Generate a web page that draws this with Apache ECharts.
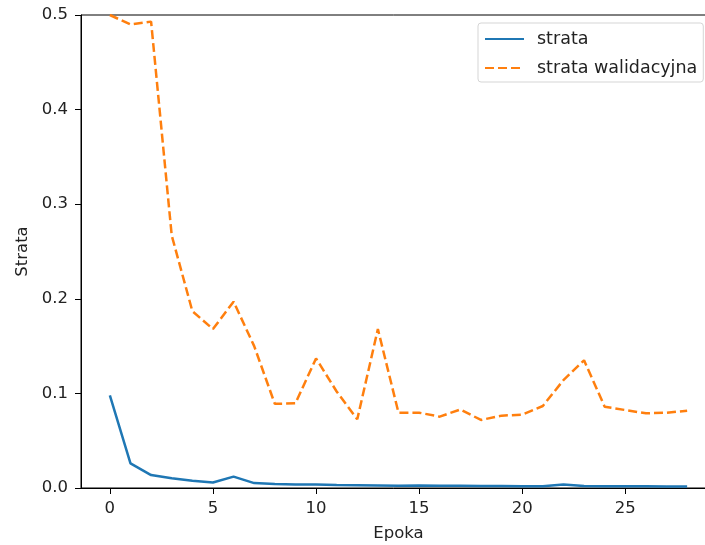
<!DOCTYPE html>
<html>
<head>
<meta charset="utf-8">
<script src="https://cdn.jsdelivr.net/npm/echarts@6/dist/echarts.min.js"></script>
<style>
  html, body { margin: 0; padding: 0; background: #fff; }
  #chart { width: 705px; height: 545px; }
</style>
</head>
<body>
<div id="chart"></div>
<script>
// epoki 0..28
var epochs = [0,1,2,3,4,5,6,7,8,9,10,11,12,13,14,15,16,17,18,19,20,21,22,23,24,25,26,27,28];
var loss = [0.098,0.026,0.0137,0.0102,0.0077,0.0058,0.012,0.0052,0.0042,0.0036,0.0038,0.0031,0.0029,0.0027,0.0025,0.0026,0.0023,0.0024,0.0021,0.002,0.0019,0.0019,0.0037,0.0022,0.0019,0.0018,0.0018,0.0017,0.0016];
var valLoss = [0.5,0.49,0.493,0.267,0.187,0.168,0.197,0.15,0.089,0.0895,0.137,0.102,0.0726,0.168,0.0796,0.0796,0.0754,0.083,0.0719,0.0765,0.0775,0.0867,0.114,0.135,0.086,0.0824,0.079,0.0796,0.0817];
var xTicks = [0,5,10,15,20,25];

var font = 'DejaVu Sans';
var fs = 16.5;
var chart = echarts.init(document.getElementById('chart'));

function pairs(ys) {
    return epochs.map(function (x, i) { return [x, ys[i]]; });
}

chart.setOption({
    animation: false,
    backgroundColor: '#fff',
    textStyle: { fontFamily: font },
    grid: {
        left: 81, top: 15, width: 635, height: 473,
        outerBoundsMode: 'none',
        show: true, borderColor: '#000', borderWidth: 1, backgroundColor: 'transparent'
    },
    legend: {
        orient: 'vertical',
        left: 478, top: 23,
        padding: [6, 6, 4, 6],
        itemWidth: 39, itemHeight: 12, itemGap: 9,
        backgroundColor: '#fff',
        borderColor: '#d5d5d5', borderWidth: 1, borderRadius: 3,
        itemStyle: { opacity: 0 },
        textStyle: { fontFamily: font, fontSize: 17.5, lineHeight: 20, color: '#222', padding: [0, 0, 0, 8] },
        data: ['strata', 'strata walidacyjna']
    },
    xAxis: {
        type: 'value',
        min: -1.4, max: 29.4,
        name: 'Epoka', nameLocation: 'middle', nameGap: 37,
        nameTextStyle: { fontFamily: font, fontSize: fs, color: '#222' },
        axisLine: { onZero: false, lineStyle: { color: '#000', width: 1 } },
        axisTick: { show: true, length: 6, customValues: xTicks, lineStyle: { color: '#000' } },
        axisLabel: { customValues: xTicks, margin: 12, fontFamily: font, fontSize: fs, color: '#222' },
        splitLine: { show: false }
    },
    yAxis: {
        type: 'value',
        min: 0, max: 0.5, interval: 0.1,
        name: 'Strata', nameLocation: 'middle', nameGap: 50,
        nameTextStyle: { fontFamily: font, fontSize: fs, color: '#222' },
        axisLine: { show: true, onZero: false, lineStyle: { color: '#000', width: 1 } },
        axisTick: { show: true, length: 6, lineStyle: { color: '#000' } },
        axisLabel: {
            margin: 13, fontFamily: font, fontSize: fs, color: '#222',
            formatter: function (v) { return v.toFixed(1); }
        },
        splitLine: { show: false }
    },
    series: [
        {
            name: 'strata', type: 'line', data: pairs(loss),
            symbol: 'none', color: '#1f77b4',
            lineStyle: { color: '#1f77b4', width: 2.5 }
        },
        {
            name: 'strata walidacyjna', type: 'line', data: pairs(valLoss),
            symbol: 'none', color: '#ff7f0e',
            lineStyle: { color: '#ff7f0e', width: 2.5, type: [9, 4] }
        }
    ]
});
</script>
</body>
</html>
